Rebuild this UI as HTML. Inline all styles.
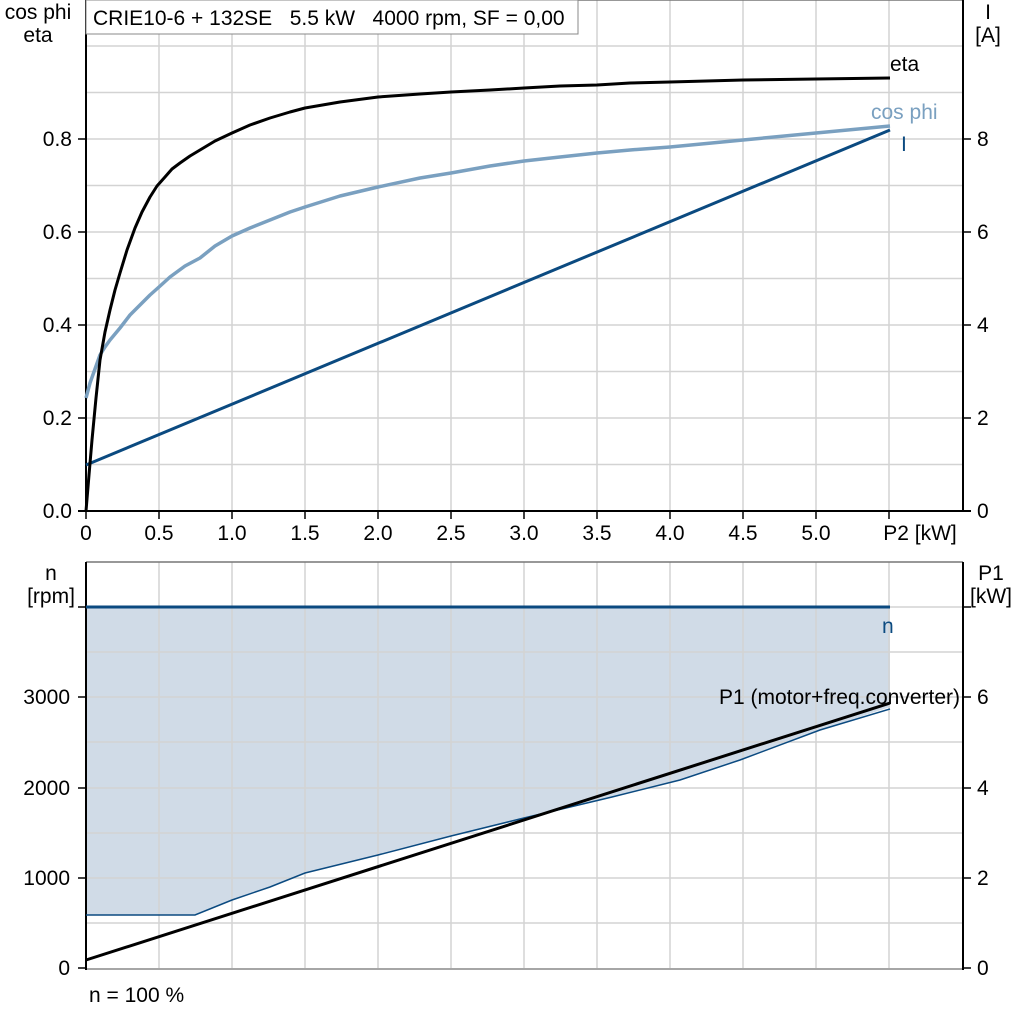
<!DOCTYPE html>
<html><head><meta charset="utf-8"><style>
html,body{margin:0;padding:0;background:#fff}
svg{display:block}
text{font-family:"Liberation Sans",sans-serif;font-size:21px;fill:#000;white-space:pre}
</style></head><body>
<svg width="1024" height="1024" viewBox="0 0 1024 1024" xmlns="http://www.w3.org/2000/svg" xml:space="preserve">
<rect width="1024" height="1024" fill="#fff"/>
<g stroke="#d3d3d3" stroke-width="1.5">
<line x1="159" y1="0" x2="159" y2="511"/><line x1="232" y1="0" x2="232" y2="511"/><line x1="305" y1="0" x2="305" y2="511"/><line x1="378" y1="0" x2="378" y2="511"/><line x1="451" y1="0" x2="451" y2="511"/><line x1="524" y1="0" x2="524" y2="511"/><line x1="597" y1="0" x2="597" y2="511"/><line x1="670" y1="0" x2="670" y2="511"/><line x1="743" y1="0" x2="743" y2="511"/><line x1="816" y1="0" x2="816" y2="511"/><line x1="889" y1="0" x2="889" y2="511"/>
<line x1="86" y1="464.5" x2="963" y2="464.5"/><line x1="86" y1="418" x2="963" y2="418"/><line x1="86" y1="371.5" x2="963" y2="371.5"/><line x1="86" y1="325" x2="963" y2="325"/><line x1="86" y1="278.5" x2="963" y2="278.5"/><line x1="86" y1="232" x2="963" y2="232"/><line x1="86" y1="185.5" x2="963" y2="185.5"/><line x1="86" y1="139" x2="963" y2="139"/><line x1="86" y1="92.5" x2="963" y2="92.5"/><line x1="86" y1="46" x2="963" y2="46"/>
</g>
<line x1="86" y1="0" x2="963" y2="0" stroke="#777" stroke-width="1.5"/>
<g stroke="#000" stroke-width="2">
<line x1="86" y1="0" x2="86" y2="512"/><line x1="963" y1="0" x2="963" y2="512"/><line x1="78" y1="511" x2="971" y2="511"/>
</g>
<g stroke="#000" stroke-width="1.5">
<line x1="78" y1="418" x2="86" y2="418"/><line x1="78" y1="325" x2="86" y2="325"/><line x1="78" y1="232" x2="86" y2="232"/><line x1="78" y1="139" x2="86" y2="139"/>
<line x1="963" y1="418" x2="971" y2="418"/><line x1="963" y1="325" x2="971" y2="325"/><line x1="963" y1="232" x2="971" y2="232"/><line x1="963" y1="139" x2="971" y2="139"/>
<line x1="86" y1="511" x2="86" y2="519"/><line x1="159" y1="511" x2="159" y2="519"/><line x1="232" y1="511" x2="232" y2="519"/><line x1="305" y1="511" x2="305" y2="519"/><line x1="378" y1="511" x2="378" y2="519"/><line x1="451" y1="511" x2="451" y2="519"/><line x1="524" y1="511" x2="524" y2="519"/><line x1="597" y1="511" x2="597" y2="519"/><line x1="670" y1="511" x2="670" y2="519"/><line x1="743" y1="511" x2="743" y2="519"/><line x1="816" y1="511" x2="816" y2="519"/><line x1="889" y1="511" x2="889" y2="519"/>
</g>
<g text-anchor="end">
<text x="72" y="518">0.0</text><text x="72" y="425">0.2</text><text x="72" y="332">0.4</text><text x="72" y="239">0.6</text><text x="72" y="146">0.8</text>
</g>
<g text-anchor="start">
<text x="977" y="518">0</text><text x="977" y="425">2</text><text x="977" y="332">4</text><text x="977" y="239">6</text><text x="977" y="146">8</text>
</g>
<g text-anchor="middle">
<text x="86" y="540">0</text><text x="159" y="540">0.5</text><text x="232" y="540">1.0</text><text x="305" y="540">1.5</text><text x="378" y="540">2.0</text><text x="451" y="540">2.5</text><text x="524" y="540">3.0</text><text x="597" y="540">3.5</text><text x="670" y="540">4.0</text><text x="743" y="540">4.5</text><text x="816" y="540">5.0</text><text x="920" y="540">P2 [kW]</text>
<text x="38" y="19">cos phi</text><text x="38" y="42">eta</text>
<text x="988" y="19">I</text><text x="988" y="42">[A]</text>
</g>
<rect x="86" y="0" width="492" height="34" fill="#fff" stroke="#888" stroke-width="1"/>
<text x="93" y="25">CRIE10-6 + 132SE   5.5 kW   4000 rpm, SF = 0,00</text>
<polyline fill="none" stroke="#0b4a80" stroke-width="3" points="86,465 890,130"/>
<polyline fill="none" stroke="#7aa0c0" stroke-width="3.5" stroke-linejoin="round" points="86,398 90,383 95,369 100,355 105,347 110,340 115,334 120,328 130,315 140,305 150,295 159,287 170,277 185,266 200,258 215,246 232,236 250,228 270,220 290,212 305,207 340,196 378,187 420,178 451,173 490,166 524,161 560,157 597,153 630,150 670,147 743,140 816,133 890,126"/>
<polyline fill="none" stroke="#000" stroke-width="3" stroke-linejoin="round" points="86,511 89,475 92,440 96,398 100,360 105,332 110,310 115,290 120,273 127,250 135,228 142,212 150,197 157,186 165,177 172,169 180,163 190,156 200,150 215,141 232,133 250,125 270,118 290,112 305,108 340,102 378,97 420,94 451,92 490,90 524,88 560,86 597,85 630,83 670,82 743,80 816,79 890,78"/>
<text x="890" y="71">eta</text>
<text x="871" y="119" style="fill:#7aa0c0">cos phi</text>
<text x="901" y="151" style="fill:#0b4a80">I</text>

<polygon fill="#d0dbe7" points="86,607 890,607 890,707 820,730 740,760 680,780 612,797 524,818 451,836 378,855 305,873 270,887 232,900 195,915 86,915"/>
<g stroke="#d3d3d3" stroke-width="1.5">
<line x1="159" y1="562" x2="159" y2="968"/><line x1="232" y1="562" x2="232" y2="968"/><line x1="305" y1="562" x2="305" y2="968"/><line x1="378" y1="562" x2="378" y2="968"/><line x1="451" y1="562" x2="451" y2="968"/><line x1="524" y1="562" x2="524" y2="968"/><line x1="597" y1="562" x2="597" y2="968"/><line x1="670" y1="562" x2="670" y2="968"/><line x1="743" y1="562" x2="743" y2="968"/><line x1="816" y1="562" x2="816" y2="968"/><line x1="889" y1="562" x2="889" y2="968"/>
<line x1="86" y1="923" x2="963" y2="923"/><line x1="86" y1="878" x2="963" y2="878"/><line x1="86" y1="833" x2="963" y2="833"/><line x1="86" y1="788" x2="963" y2="788"/><line x1="86" y1="742" x2="963" y2="742"/><line x1="86" y1="697" x2="963" y2="697"/><line x1="86" y1="652" x2="963" y2="652"/><line x1="86" y1="607" x2="963" y2="607"/>
</g>
<line x1="86" y1="562" x2="963" y2="562" stroke="#777" stroke-width="1.5"/>
<line x1="86" y1="969" x2="963" y2="969" stroke="#888" stroke-width="1.5"/>
<g stroke="#000" stroke-width="2">
<line x1="86" y1="562" x2="86" y2="970"/><line x1="963" y1="562" x2="963" y2="970"/>
</g>
<g stroke="#000" stroke-width="1.5">
<line x1="78" y1="968" x2="86" y2="968"/><line x1="78" y1="878" x2="86" y2="878"/><line x1="78" y1="788" x2="86" y2="788"/><line x1="78" y1="697" x2="86" y2="697"/><line x1="78" y1="607" x2="86" y2="607"/>
<line x1="963" y1="968" x2="971" y2="968"/><line x1="963" y1="878" x2="971" y2="878"/><line x1="963" y1="788" x2="971" y2="788"/><line x1="963" y1="697" x2="971" y2="697"/><line x1="963" y1="607" x2="971" y2="607"/>
</g>
<g text-anchor="end">
<text x="70" y="975">0</text><text x="70" y="885">1000</text><text x="70" y="795">2000</text><text x="70" y="704">3000</text>
</g>
<g text-anchor="start">
<text x="977" y="975">0</text><text x="977" y="885">2</text><text x="977" y="795">4</text><text x="977" y="704">6</text>
</g>
<g text-anchor="middle">
<text x="51" y="580">n</text><text x="51" y="603">[rpm]</text>
<text x="991" y="580">P1</text><text x="991" y="603">[kW]</text>
</g>
<polyline fill="none" stroke="#0b4a80" stroke-width="1.5" points="86,915 195,915 232,900 270,887 305,873 378,855 451,836 524,818 612,797 680,780 740,760 820,730 890,709"/>
<line x1="86" y1="607" x2="890" y2="607" stroke="#0b4a80" stroke-width="3"/>
<line x1="86" y1="960" x2="890" y2="703" stroke="#000" stroke-width="3"/>
<text x="882" y="633" style="fill:#0b4a80">n</text>
<text x="960" y="704" text-anchor="end">P1 (motor+freq.converter)</text>
<text x="89" y="1002">n = 100 %</text>
</svg>
</body></html>
